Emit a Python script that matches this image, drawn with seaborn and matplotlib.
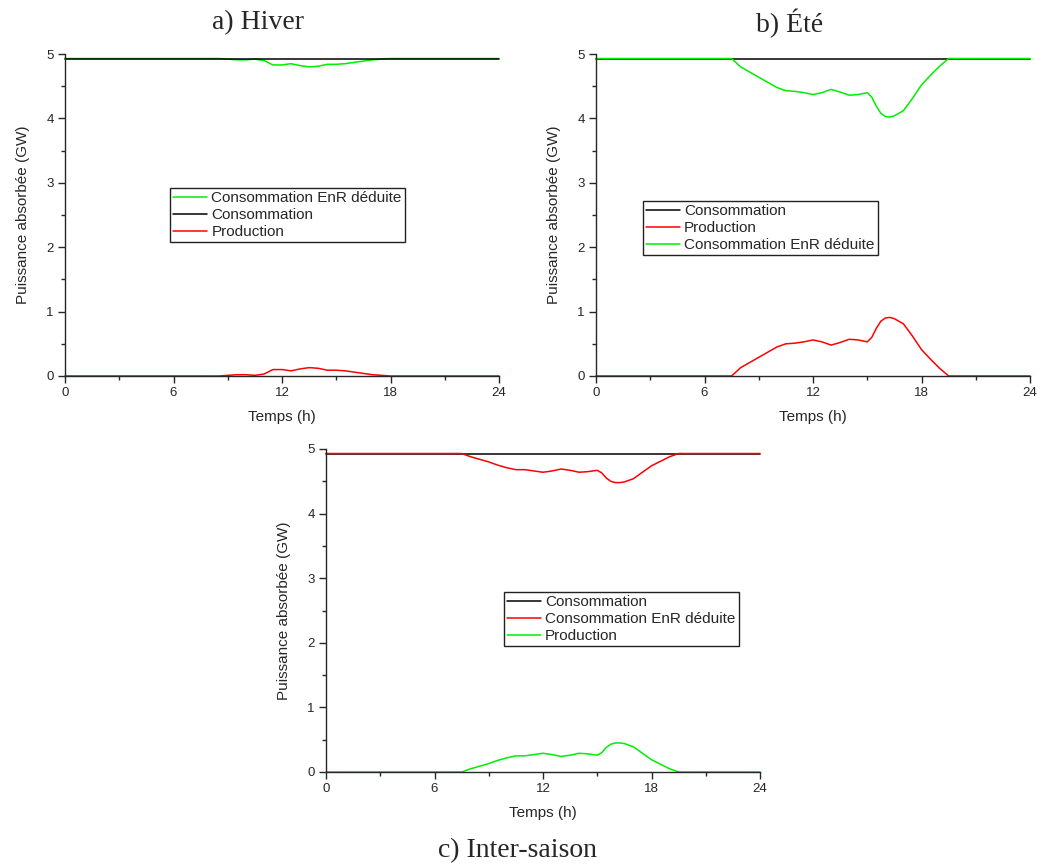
import numpy as np
import pandas as pd
import seaborn as sns
import matplotlib.pyplot as plt
from matplotlib.ticker import MultipleLocator

# constant consumption level (GW)
conso_level = 4.93

# production (GW), per season
hours_hiver = [0, 8.5, 9, 9.5, 10, 10.5, 11, 11.5, 12, 12.5, 13, 13.5, 14, 14.5,
               15, 15.5, 16, 16.5, 17, 17.5, 18, 24]
prod_hiver = [0, 0, 0.01, 0.02, 0.02, 0.01, 0.03, 0.10, 0.10, 0.08, 0.11, 0.13, 0.12, 0.09,
              0.09, 0.08, 0.06, 0.04, 0.02, 0.01, 0, 0]

hours_ete = [0, 7.5, 8, 8.5, 9, 9.5, 10, 10.5, 11, 11.5, 12, 12.5, 13, 13.5, 14, 14.5,
             15, 15.25, 15.5, 15.75, 16, 16.25, 16.5, 17, 17.5, 18, 18.5, 19, 19.5, 24]
prod_ete = [0, 0, 0.13, 0.21, 0.29, 0.37, 0.45, 0.50, 0.51, 0.53, 0.56, 0.53, 0.48, 0.52, 0.57, 0.56,
            0.53, 0.60, 0.74, 0.85, 0.90, 0.91, 0.89, 0.81, 0.62, 0.41, 0.26, 0.12, 0, 0]

hours_inter = hours_ete
prod_inter = [0, 0, 0.05, 0.09, 0.13, 0.18, 0.22, 0.25, 0.25, 0.27, 0.29, 0.27, 0.24, 0.26, 0.29, 0.28,
              0.26, 0.30, 0.38, 0.43, 0.45, 0.45, 0.44, 0.39, 0.29, 0.19, 0.12, 0.05, 0, 0]

titles = ["a) Hiver", "b) Été", "c) Inter-saison"]

GREEN = "#00ee00"
RED = "#ff0000"
BLACK = "#000000"


def season_frame(hours, prod):
    hours = np.array(hours, dtype=float)
    prod = np.array(prod, dtype=float)
    conso = np.full_like(hours, conso_level)
    return pd.DataFrame({
        "t": np.concatenate([hours, hours, hours]),
        "val": np.concatenate([conso, prod, conso - prod]),
        "serie": ["Consommation"] * len(hours) + ["Production"] * len(hours)
                 + ["Consommation EnR déduite"] * len(hours),
    })


sns.set_style("ticks")
plt.rcParams["font.family"] = ["Liberation Sans", "DejaVu Sans"]
plt.rcParams["axes.linewidth"] = 1.0

fig = plt.figure(figsize=(10.37, 8.65), dpi=100)

W, H = 1037, 865
def axes_px(left, right, top, bottom):
    return fig.add_axes([left / W, 1 - bottom / H, (right - left) / W, (bottom - top) / H])

panels = [
    # axes rect (px), data, series order, colors, legend anchor
    (axes_px(65, 499, 54, 376), season_frame(hours_hiver, prod_hiver),
     ["Consommation EnR déduite", "Consommation", "Production"],
     {"Consommation EnR déduite": GREEN, "Consommation": BLACK, "Production": RED},
     (0.242, 0.584)),
    (axes_px(596, 1030, 54, 376), season_frame(hours_ete, prod_ete),
     ["Consommation", "Production", "Consommation EnR déduite"],
     {"Consommation": BLACK, "Production": RED, "Consommation EnR déduite": GREEN},
     (0.108, 0.543)),
    (axes_px(326, 760, 449, 772), season_frame(hours_inter, prod_inter),
     ["Consommation", "Consommation EnR déduite", "Production"],
     {"Consommation": BLACK, "Consommation EnR déduite": RED, "Production": GREEN},
     (0.41, 0.557)),
]

for ax, df, order, colors, anchor in panels:
    for name in order:
        sns.lineplot(data=df[df["serie"] == name], x="t", y="val", ax=ax,
                     color=colors[name], linewidth=1.1, label=name, clip_on=False)
    ax.set_xlim(0, 24)
    ax.set_ylim(0, 5)
    ax.xaxis.set_major_locator(MultipleLocator(6))
    ax.xaxis.set_minor_locator(MultipleLocator(3))
    ax.yaxis.set_major_locator(MultipleLocator(1))
    ax.yaxis.set_minor_locator(MultipleLocator(0.5))
    ax.tick_params(which="major", length=5, width=1, labelsize=9.5, pad=3, direction="out")
    ax.tick_params(which="minor", length=3, width=1, direction="out")
    sns.despine(ax=ax)
    ax.set_xlabel("Temps (h)", fontsize=11, labelpad=8)
    ax.set_ylabel("Puissance absorbée (GW)", fontsize=11, labelpad=12)
    leg = ax.legend(loc="upper left", bbox_to_anchor=anchor, borderaxespad=0,
                    fontsize=11, frameon=True, fancybox=False, framealpha=1,
                    edgecolor="#222222", handlelength=2.2, handletextpad=0.3,
                    labelspacing=0.2, borderpad=0.2)
    leg.get_frame().set_linewidth(1.0)

serif = ["Liberation Serif", "DejaVu Serif"]
fig.text(258 / W, 1 - 23 / H, titles[0], ha="center", va="center", fontsize=20, family=serif)
fig.text(790 / W, 1 - 23 / H, titles[1], ha="center", va="center", fontsize=20, family=serif)
fig.text(518 / W, 1 - 851 / H, titles[2], ha="center", va="center", fontsize=20, family=serif)

fig.savefig("out.png", dpi=100)
